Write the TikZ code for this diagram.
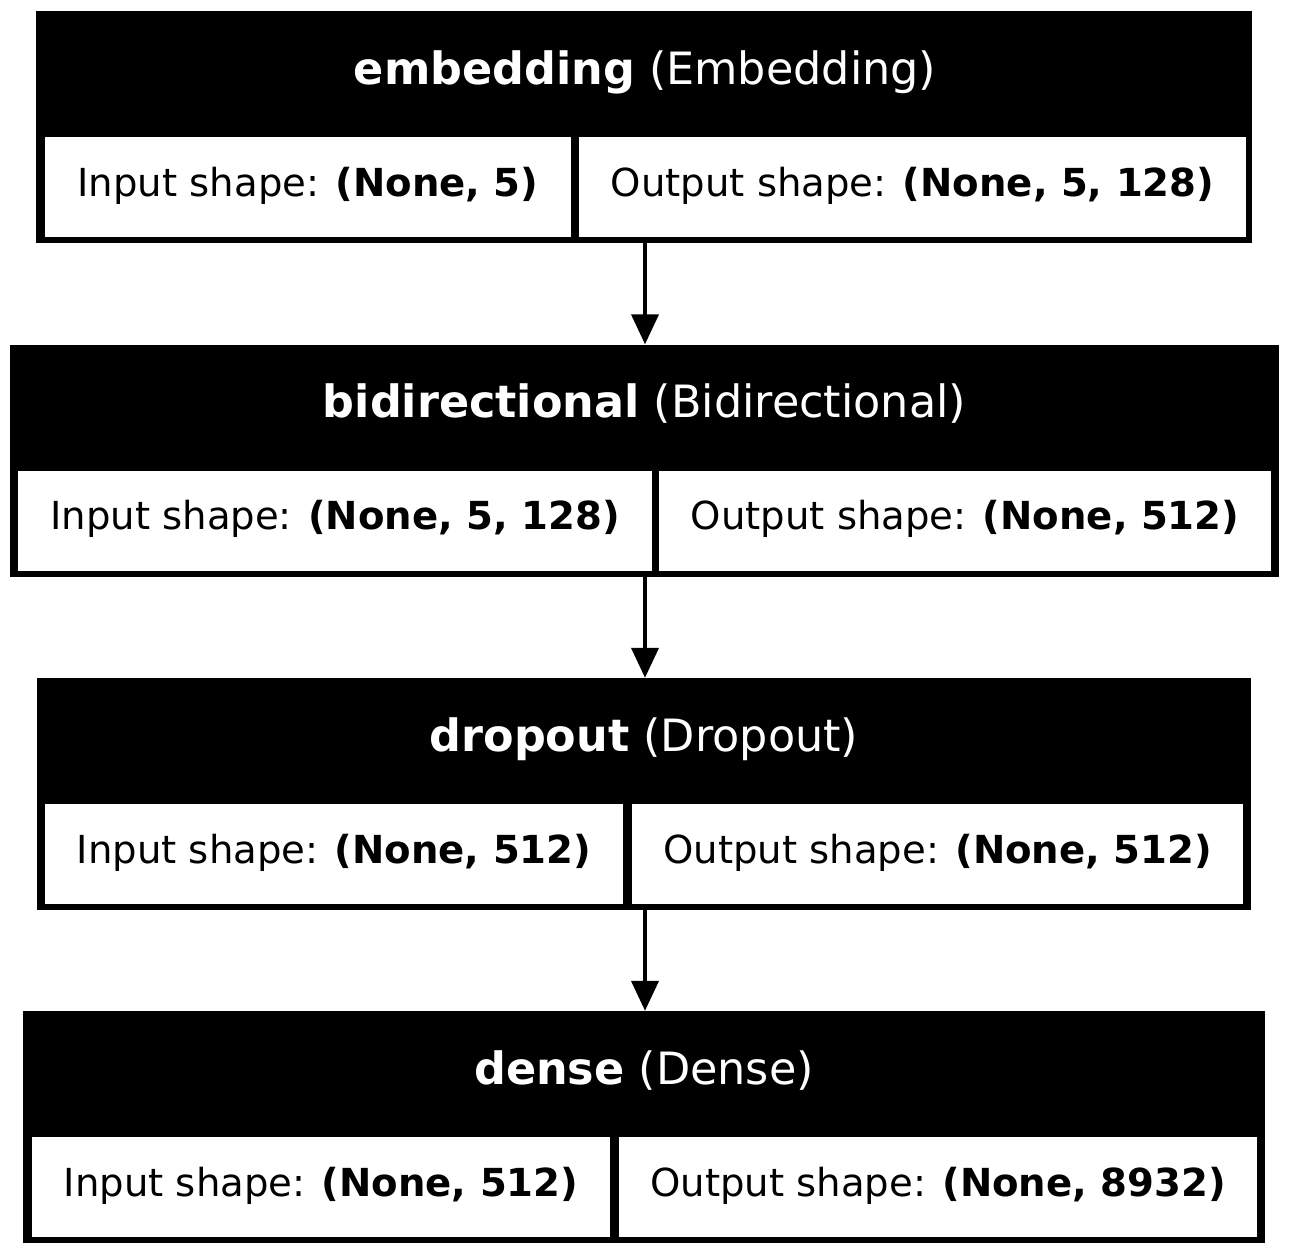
\documentclass[tikz,border=0pt]{standalone}
\usepackage{fontspec}
\setmainfont{DejaVu Sans}
\usetikzlibrary{arrows.meta}
\tikzset{
  layer/.style={fill=black, draw=none, inner sep=0pt, minimum height=232pt},
  cell/.style={fill=white, draw=none, inner sep=0pt, minimum height=100pt,
    text height=28pt, text depth=10pt, font=\fontsize{38.6}{46}\selectfont},
  head/.style={anchor=base, text=white, inner sep=0pt, font=\fontsize{44.5}{53}\selectfont},
  flow/.style={line width=4pt, -{Triangle[length=30pt,width=27pt]}}
}
\begin{document}
\begin{tikzpicture}[x=1pt,y=-1pt]
\useasboundingbox (0,0) rectangle (1289,1256);
% embedding
\node[layer, minimum width=1216pt] (emb) at (644,127) {};
\node[head] (emb-h) at (645,84) {\textbf{embedding} (Embedding)};
\node[cell, minimum width=526pt] (emb-in) at (308,187) {Input shape: \textbf{(None, 5)}};
\node[cell, minimum width=667pt] (emb-out) at (912.5,187) {Output shape: \textbf{(None, 5, 128)}};
% bidirectional
\node[layer, minimum width=1269pt] (bid) at (644.5,460.5) {};
\node[head] (bid-h) at (644.5,417) {\textbf{bidirectional} (Bidirectional)};
\node[cell, minimum width=634pt] (bid-in) at (335,520.5) {Input shape: \textbf{(None, 5, 128)}};
\node[cell, minimum width=612pt] (bid-out) at (965,520.5) {Output shape: \textbf{(None, 512)}};
% dropout
\node[layer, minimum width=1214pt] (drop) at (644,794) {};
\node[head] (drop-h) at (644,751) {\textbf{dropout} (Dropout)};
\node[cell, minimum width=578pt] (drop-in) at (334,854) {Input shape: \textbf{(None, 512)}};
\node[cell, minimum width=611pt] (drop-out) at (937.5,854) {Output shape: \textbf{(None, 512)}};
% dense
\node[layer, minimum width=1242pt] (dense) at (644,1127) {};
\node[head] (dense-h) at (644,1084) {\textbf{dense} (Dense)};
\node[cell, minimum width=578pt] (dense-in) at (321,1187) {Input shape: \textbf{(None, 512)}};
\node[cell, minimum width=638pt] (dense-out) at (938,1187) {Output shape: \textbf{(None, 8932)}};
% connectors
\draw[flow] ([xshift=1pt]emb.south) -- ([xshift=1pt]emb.south |- bid.north);
\draw[flow] ([xshift=0.5pt]bid.south) -- ([xshift=0.5pt]bid.south |- drop.north);
\draw[flow] ([xshift=1pt]drop.south) -- ([xshift=1pt]drop.south |- dense.north);
\end{tikzpicture}
\end{document}
